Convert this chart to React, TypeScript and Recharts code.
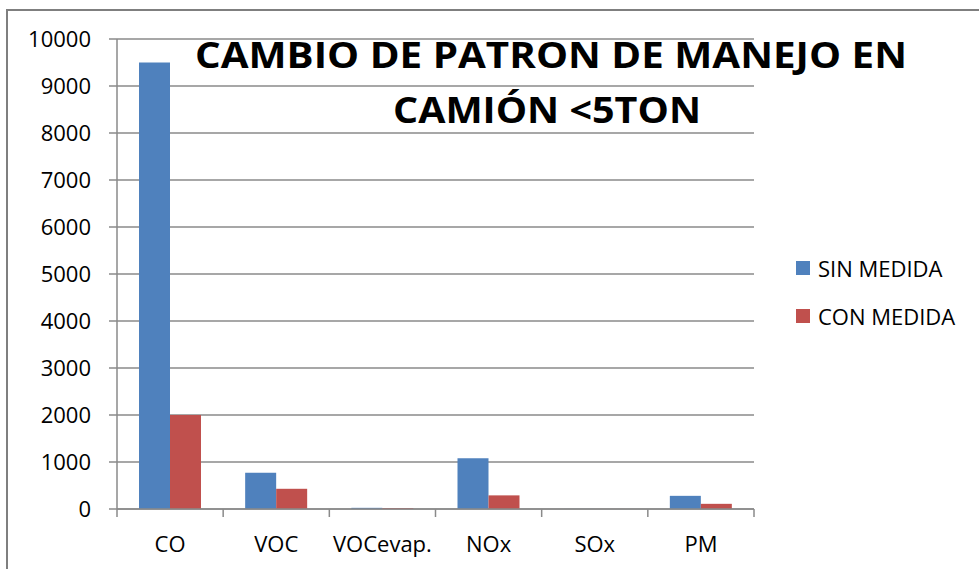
import React from "react";
import { BarChart, Bar, XAxis, YAxis, CartesianGrid, Legend } from "recharts";

const categories = ["CO", "VOC", "VOCevap.", "NOx", "SOx", "PM"];
const sinMedida = [9500, 770, 25, 1080, 2, 280];
const conMedida = [2000, 430, 20, 290, 1, 110];
const yTicks = [0, 1000, 2000, 3000, 4000, 5000, 6000, 7000, 8000, 9000, 10000];
const seriesNames = ["SIN MEDIDA", "CON MEDIDA"];
const seriesColors = ["#4F81BD", "#C0504D"];
const titleLines = ["CAMBIO DE PATRON DE MANEJO EN", "CAMIÓN <5TON"];

const data = categories.map((c, i) => ({
  name: c,
  sin: sinMedida[i],
  con: conMedida[i],
}));

const FONT = "'Open Sans', 'DejaVu Sans', sans-serif";
const GRAY = "#8a8a8a";

const XTick = (props: any) => {
  const { x, y, payload, index, visibleTicksCount, width } = props;
  const half =
    payload && payload.offset ? payload.offset : width / (visibleTicksCount || 6) / 2;
  const last = index === (visibleTicksCount || categories.length) - 1;
  return (
    <g>
      <line x1={x - half} y1={y} x2={x - half} y2={y + 8} stroke={GRAY} strokeWidth={1.5} />
      {last && (
        <line x1={x + half} y1={y} x2={x + half} y2={y + 8} stroke={GRAY} strokeWidth={1.5} />
      )}
      <text x={x} y={y + 42.5} textAnchor="middle" fontSize={22} fontFamily={FONT} fill="#000">
        {payload.value}
      </text>
    </g>
  );
};

const LegendContent = (props: any) => {
  const items = [...(props.payload || [])].sort(
    (a: any, b: any) => seriesNames.indexOf(a.value) - seriesNames.indexOf(b.value)
  );
  return (
    <div style={{ fontFamily: FONT }}>
      {items.map((p: any, i: number) => (
        <div
          key={i}
          style={{ display: "flex", alignItems: "center", height: 48, whiteSpace: "nowrap" }}
        >
          <span
            style={{ display: "inline-block", width: 14, height: 14, background: p.color, marginRight: 8 }}
          />
          <span style={{ fontSize: 22, color: "#000", lineHeight: "22px" }}>{p.value}</span>
        </div>
      ))}
    </div>
  );
};

export default function App() {
  return (
    <div
      style={{
        position: "absolute",
        left: 0,
        top: 0,
        width: 979,
        height: 569,
        overflow: "hidden",
        background: "#fff",
      }}
    >
      <div
        style={{
          position: "absolute",
          left: 6,
          top: 9,
          width: 1000,
          height: 600,
          border: "2px solid #7f7f7f",
          boxSizing: "border-box",
        }}
      />
      <div style={{ position: "absolute", left: 0, top: 0 }}>
        <BarChart
          width={979}
          height={569}
          data={data}
          margin={{ top: 39, right: 225, bottom: 0, left: 0 }}
          barSize={31}
          barGap={0}
        >
          <CartesianGrid vertical={false} stroke={GRAY} strokeWidth={1.5} />
          <XAxis
            dataKey="name"
            tickLine={false}
            tickSize={0}
            tickMargin={0}
            axisLine={{ stroke: GRAY, strokeWidth: 1.5 }}
            tick={<XTick />}
            interval={0}
            height={60}
          />
          <YAxis
            width={117}
            domain={[0, 10000]}
            ticks={yTicks}
            tickSize={8}
            tickMargin={18}
            tickLine={{ stroke: GRAY, strokeWidth: 1.5 }}
            axisLine={{ stroke: GRAY, strokeWidth: 1.5 }}
            tick={{ fontSize: 22, fontFamily: FONT, fill: "#000" }}
            interval={0}
          />
          <Legend
            layout="vertical"
            align="center"
            verticalAlign="middle"
            content={<LegendContent />}
            wrapperStyle={{ left: 796, top: 244, width: 180 }}
          />
          <Bar dataKey="sin" name={seriesNames[0]} fill={seriesColors[0]} isAnimationActive={false} />
          <Bar dataKey="con" name={seriesNames[1]} fill={seriesColors[1]} isAnimationActive={false} />
        </BarChart>
      </div>
      <svg
        width={979}
        height={569}
        style={{ position: "absolute", left: 0, top: 0, pointerEvents: "none" }}
      >
        <text
          x={551}
          y={68}
          textAnchor="middle"
          fontFamily={FONT}
          fontWeight={700}
          fontSize={36}
          textLength={712}
          lengthAdjust="spacingAndGlyphs"
          fill="#000"
        >
          {titleLines[0]}
        </text>
        <text
          x={547}
          y={122.5}
          textAnchor="middle"
          fontFamily={FONT}
          fontWeight={700}
          fontSize={36}
          textLength={308}
          lengthAdjust="spacingAndGlyphs"
          fill="#000"
        >
          {titleLines[1]}
        </text>
      </svg>
    </div>
  );
}
